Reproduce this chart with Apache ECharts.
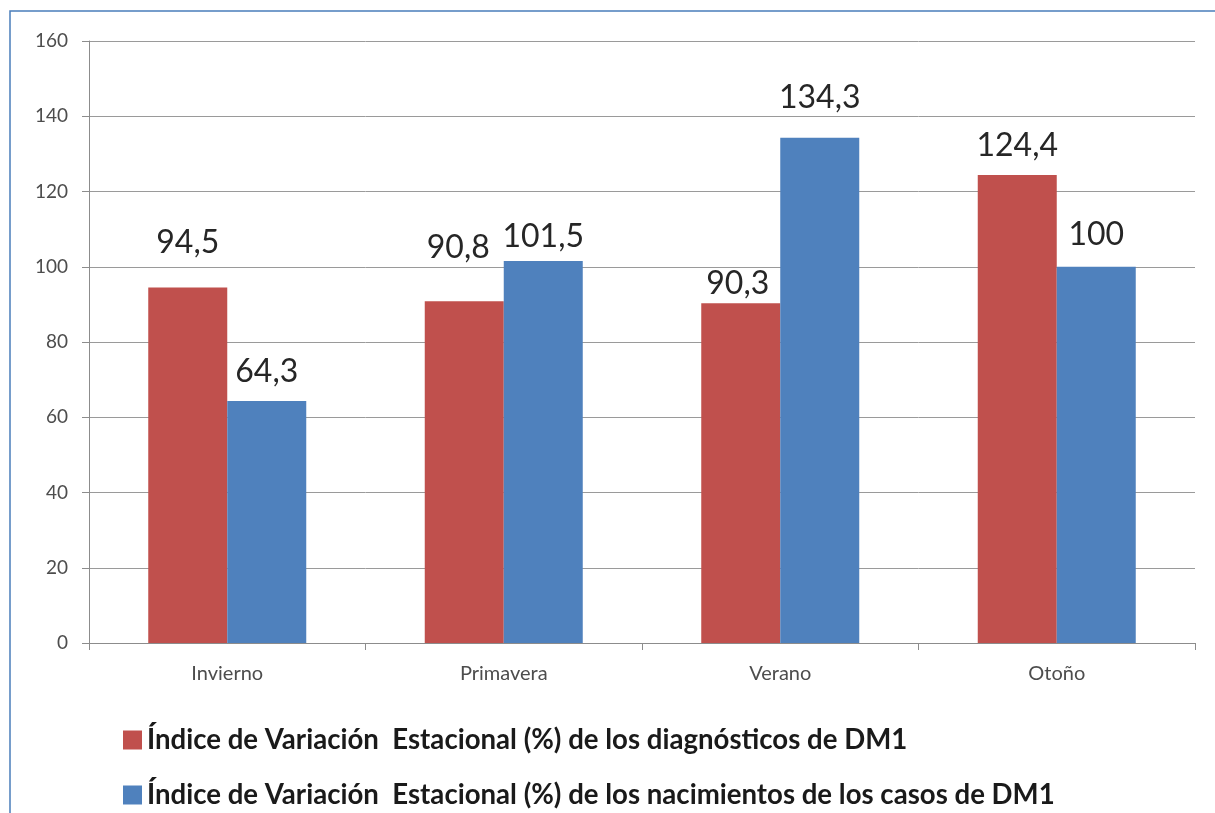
<!DOCTYPE html>
<html>
<head>
<meta charset="utf-8">
<script src="https://cdn.jsdelivr.net/npm/echarts@6/dist/echarts.min.js"></script>
<style>
  html, body { margin: 0; padding: 0; background: #ffffff; }
  #chart { width: 1215px; height: 813px; }
</style>
</head>
<body>
<div id="chart"></div>
<script>
// Seasons on the category axis
const seasons = ['Invierno', 'Primavera', 'Verano', 'Otoño'];

// Seasonal variation index (%) of DM1 diagnoses
const diagnosesIndex = [94.5, 90.8, 90.3, 124.4];

// Seasonal variation index (%) of births of DM1 cases
const birthsIndex = [64.3, 101.5, 134.3, 100];

// Value axis range
const yMin = 0;
const yMax = 160;
const yStep = 20;

const seriesNames = [
  'Índice de Variación  Estacional (%) de los diagnósticos de DM1',
  'Índice de Variación  Estacional (%) de los nacimientos de los casos de DM1'
];

// Hand-placed label nudges [dx, dy] (labels were moved individually)
const diagLabelNudge = [[0, -29], [-6, -38], [-3, -4], [0, -13]];
const birthLabelNudge = [[0, -13], [0, -8], [0, -24], [0, -16]];

const fmt = v => String(v).replace('.', ',');

function items(values, nudges) {
  return values.map((v, i) => ({
    value: v,
    label: { offset: nudges[i] }
  }));
}

const labelStyle = {
  show: true,
  position: 'top',
  distance: 0,
  fontFamily: 'Lato',
  fontSize: 32,
  color: '#262626',
  formatter: p => fmt(p.value)
};

const legendText = {
  fontFamily: 'Lato',
  fontWeight: 'bold',
  fontSize: 27.6,
  color: '#1a1a1a'
};

function legendAt(name, top) {
  return {
    orient: 'horizontal',
    left: 118,
    top: top,
    itemWidth: 19,
    itemHeight: 19,
    itemGap: 0,
    icon: 'rect',
    selectedMode: false,
    textStyle: legendText,
    data: [name]
  };
}

const chart = echarts.init(document.getElementById('chart'), null, { renderer: 'canvas' });

chart.setOption({
  backgroundColor: '#ffffff',
  animation: false,
  grid: { left: 89, right: 20, top: 41, bottom: 170, containLabel: false },
  legend: [
    legendAt(seriesNames[0], 721),
    legendAt(seriesNames[1], 776)
  ],
  xAxis: {
    type: 'category',
    data: seasons,
    axisLine: { lineStyle: { color: '#8c8c8c', width: 1 } },
    axisTick: { show: true, length: 7, lineStyle: { color: '#8c8c8c' } },
    axisLabel: { fontFamily: 'Lato', fontSize: 20, color: '#4d4d4d', margin: 21 }
  },
  yAxis: {
    type: 'value',
    min: yMin,
    max: yMax,
    interval: yStep,
    axisLine: { show: true, lineStyle: { color: '#8c8c8c', width: 1 } },
    axisTick: { show: true, length: 7, lineStyle: { color: '#8c8c8c' } },
    axisLabel: { fontFamily: 'Lato', fontSize: 19, color: '#4d4d4d', margin: 21 },
    splitLine: { show: true, lineStyle: { color: '#9a9a9a', width: 1 } }
  },
  series: [
    {
      name: seriesNames[0],
      type: 'bar',
      data: items(diagnosesIndex, diagLabelNudge),
      barWidth: 79,
      barGap: '0%',
      itemStyle: { color: '#C0504D' },
      label: labelStyle
    },
    {
      name: seriesNames[1],
      type: 'bar',
      data: items(birthsIndex, birthLabelNudge),
      barWidth: 79,
      barGap: '0%',
      itemStyle: { color: '#4F81BD' },
      label: labelStyle
    }
  ],
  graphic: [
    {
      type: 'polyline',
      silent: true,
      shape: { points: [[10, 813], [10, 11], [1215, 11]] },
      style: { stroke: '#4a7ebb', lineWidth: 1.5, fill: null }
    }
  ]
});
</script>
</body>
</html>
